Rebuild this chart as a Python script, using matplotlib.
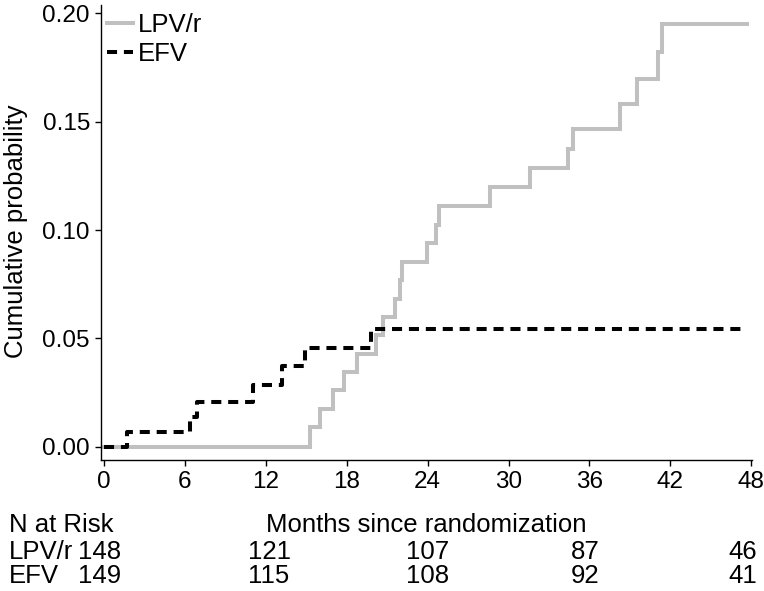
import numpy as np
import matplotlib
matplotlib.use('Agg')
import matplotlib.pyplot as plt

plt.rcParams['font.family'] = ['Liberation Sans', 'DejaVu Sans']

# cumulative probability step curves
lpv_t = [0, 15.27, 16.0, 16.96, 17.8, 18.78, 20.14, 20.66, 21.62, 21.94, 22.1,
         23.96, 24.66, 24.83, 28.6, 31.6, 34.4, 34.8, 38.3, 39.5, 41.1, 41.4, 47.7]
lpv_p = [0, 0.0091, 0.0175, 0.026, 0.0346, 0.043, 0.0516, 0.0601, 0.0683, 0.077, 0.0854,
         0.094, 0.1025, 0.1112, 0.1199, 0.1286, 0.1373, 0.1467, 0.158, 0.1696, 0.1824, 0.1951, 0.1951]

efv_t = [0, 1.72, 6.39, 6.93, 11.07, 13.18, 14.9, 19.8, 47.7]
efv_p = [0, 0.0069, 0.0139, 0.0208, 0.0286, 0.0373, 0.0457, 0.0545, 0.0545]

xticks = [0, 6, 12, 18, 24, 30, 36, 42, 48]
yticks = [0.00, 0.05, 0.10, 0.15, 0.20]

groups = ['LPV/r', 'EFV']
risk_lpv = [148, 121, 107, 87, 46]
risk_efv = [149, 115, 108, 92, 41]

W, H = 764, 591
fig = plt.figure(figsize=(W/100, H/100), dpi=100)
ax = fig.add_axes([101/W, 1-460/H, (752-101)/W, (460-5)/H])

ax.step(lpv_t, lpv_p, where='post', color='#c0c0c0', lw=2.9, label=groups[0],
        solid_joinstyle='miter')
ax.step(efv_t, efv_p, where='post', color='black', lw=2.9, dashes=(2.5, 1.7),
        dash_capstyle='butt', label=groups[1])

ax.set_xlim(-0.21, 48.05)
ax.set_ylim(-0.0061, 0.2039)
ax.set_xticks(xticks)
ax.set_yticks(yticks)
ax.set_yticklabels(['%.2f' % v for v in yticks])
for s in ['top', 'right']:
    ax.spines[s].set_visible(False)
for s in ['left', 'bottom']:
    ax.spines[s].set_linewidth(1.0)
ax.tick_params(direction='out', length=4, width=1, labelsize=17.5, pad=4)

ax.legend(loc='upper left', bbox_to_anchor=(0.009, 0.983), frameon=False,
          fontsize=18.5, handlelength=1.0, handletextpad=0.2, labelspacing=0.2,
          borderaxespad=0, borderpad=0)

fig.text(16/W, 1-231/H, 'Cumulative probability', rotation=90, ha='center',
         va='center', fontsize=18.5)

# number at risk table
fs = 18.5
fig.text(9/W, 1-525/H, 'N at Risk', ha='left', va='center', fontsize=fs)
fig.text(426/W, 1-525/H, 'Months since randomization', ha='center', va='center', fontsize=fs)
row_y = 1 - 564/H
fig.text(9/W, row_y, '\n'.join(groups), ha='left', va='center', fontsize=fs,
         linespacing=0.95)
col_x = [100, 269, 428, 585, 743]
for cx, a, b in zip(col_x, risk_lpv, risk_efv):
    fig.text(cx/W, row_y, '%d\n%d' % (a, b), ha='center', va='center',
             fontsize=fs, linespacing=0.95)

plt.savefig('out.png', dpi=100)
